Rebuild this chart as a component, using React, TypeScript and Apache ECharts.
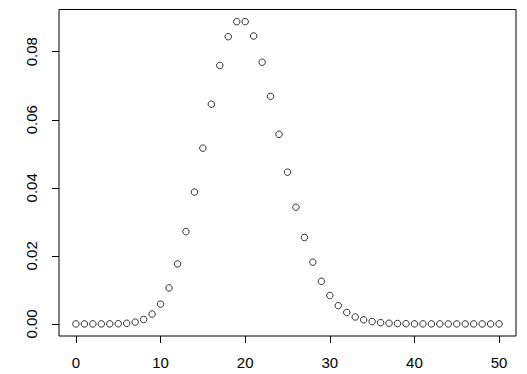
import React, { useEffect, useRef } from "react";
import * as echarts from "echarts";

const xValues: number[] = Array.from({ length: 51 }, (_, i) => i);
const yValues: number[] = [
  0.0000000, 0.0000000, 0.0000000, 0.0000027, 0.0000137, 0.0000549, 0.000183, 0.000524,
  0.00131, 0.00291, 0.00582, 0.01058, 0.01763, 0.02712, 0.03874, 0.05165,
  0.06457, 0.07596, 0.08440, 0.08884, 0.08884, 0.08461, 0.07692, 0.06688,
  0.05573, 0.04459, 0.03430, 0.02541, 0.01815, 0.01252, 0.00834, 0.00538,
  0.00336, 0.00204, 0.00120, 0.000686, 0.000381, 0.000206, 0.000108, 0.0000556,
  0.0000278, 0.0000136, 0.0000065, 0.000003, 0.0000014, 0.0000006, 0.0000003, 0.0000001,
  0.0000000, 0.0000000, 0.0000000,
];
const xTicks: number[] = [0, 10, 20, 30, 40, 50];
const yTicks: number[] = [0, 0.02, 0.04, 0.06, 0.08];

export default function App() {
  const ref = useRef<HTMLDivElement>(null);
  useEffect(() => {
    if (!ref.current) return;
    const chart = echarts.init(ref.current, null, { renderer: "svg" });
    const font = "'Liberation Sans', Arial, sans-serif";
    chart.setOption({
      animation: false,
      backgroundColor: "#ffffff",
      grid: {
        left: 59,
        top: 9.5,
        width: 457,
        height: 326.5,
        show: true,
        borderColor: "#000",
        borderWidth: 1,
        backgroundColor: "transparent",
      },
      xAxis: {
        type: "value",
        min: -2,
        max: 52,
        position: "bottom",
        axisLine: { show: false, onZero: false },
        splitLine: { show: false },
        axisTick: {
          show: true,
          inside: false,
          length: 7,
          customValues: xTicks,
          lineStyle: { color: "#000", width: 1 },
        },
        axisLabel: {
          customValues: xTicks,
          color: "#000",
          fontFamily: font,
          fontSize: 15,
          margin: 19,
          formatter: (v: number) => String(v),
        },
      },
      yAxis: {
        type: "value",
        min: -0.00355,
        max: 0.0924,
        position: "left",
        axisLine: { show: false, onZero: false },
        splitLine: { show: false },
        axisTick: {
          show: true,
          inside: false,
          length: 7,
          customValues: yTicks,
          lineStyle: { color: "#000", width: 1 },
        },
        axisLabel: {
          customValues: yTicks,
          color: "#000",
          fontFamily: font,
          fontSize: 15,
          rotate: 90,
          margin: 20,
          formatter: (v: number) => v.toFixed(2),
        },
      },
      series: [
        {
          type: "scatter",
          data: xValues.map((x, i) => [x, yValues[i]]),
          symbol: "circle",
          symbolSize: 6.5,
          itemStyle: { color: "rgba(0,0,0,0)", borderColor: "#000", borderWidth: 1 },
        },
      ],
    });
    return () => chart.dispose();
  }, []);
  return <div ref={ref} style={{ width: 527, height: 374, position: "absolute", left: 0, top: 0 }} />;
}
